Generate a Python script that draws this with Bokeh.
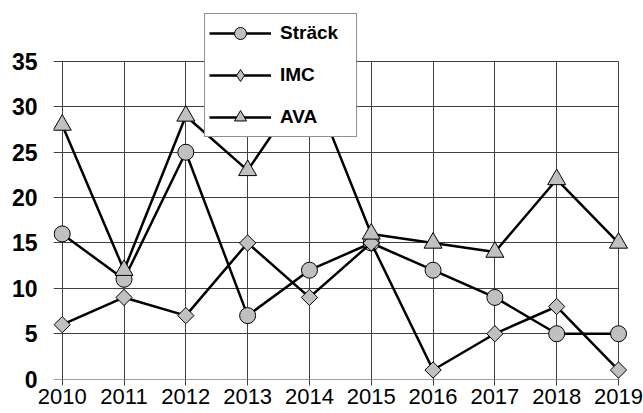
from bokeh.plotting import figure
from bokeh.models import Range1d, FixedTicker, Legend, LegendItem
from bokeh.embed import file_html
from bokeh.resources import INLINE
import numpy as np

# ---- data ----
years = [2010, 2011, 2012, 2013, 2014, 2015, 2016, 2017, 2018, 2019]
year_labels = ["2010", "2011", "2012", "2013", "2014", "2015", "2016", "2017", "2018", "2019"]
strack = [16, 11, 25, 7, 12, 15, 12, 9, 5, 5]
imc = [6, 9, 7, 15, 9, 15, 1, 5, 8, 1]
ava = [28, 12, 29, 23, 33, 16, 15, 14, 22, 15]
y_ticks = [0, 5, 10, 15, 20, 25, 30, 35]
series_names = ["Sträck", "IMC", "AVA"]

FONT = "Liberation Sans"
GRID = "#404040"

x_start, x_end = 2009.859, 2019.162
y_start, y_end = -0.044, 40.62

p = figure(width=643, height=413,
           x_range=Range1d(x_start, x_end), y_range=Range1d(y_start, y_end),
           min_border_left=53, min_border_right=15, min_border_top=10, min_border_bottom=34,
           output_backend="svg", toolbar_location=None)
p.outline_line_color = None
p.background_fill_color = "white"
p.border_fill_color = "white"

# axes
p.xaxis.ticker = FixedTicker(ticks=years)
p.xaxis.major_label_overrides = {y: l for y, l in zip(years, year_labels)}
p.xaxis.axis_line_color = None
p.xaxis.major_tick_out = 6
p.xaxis.major_tick_in = 0
p.xaxis.major_tick_line_color = GRID
p.xaxis.minor_tick_line_color = None
p.xaxis.major_label_standoff = 3
p.xaxis.major_label_text_font = FONT
p.xaxis.major_label_text_font_size = "22px"
p.xaxis.major_label_text_color = "black"

p.yaxis.ticker = FixedTicker(ticks=y_ticks)
p.yaxis.axis_line_color = None
p.yaxis.major_tick_out = 0
p.yaxis.major_tick_in = 0
p.yaxis.minor_tick_line_color = None
p.yaxis.major_label_standoff = 16
p.yaxis.major_label_text_font = FONT
p.yaxis.major_label_text_font_style = "bold"
p.yaxis.major_label_text_font_size = "23px"
p.yaxis.major_label_text_color = "black"

# grids
p.xgrid.ticker = FixedTicker(ticks=years)
p.ygrid.ticker = FixedTicker(ticks=y_ticks)
p.xgrid.grid_line_color = GRID
p.ygrid.grid_line_color = GRID
p.xgrid.grid_line_width = 1
p.ygrid.grid_line_width = 1
p.xgrid.cross_bounds = (y_start, y_ticks[-1])
p.ygrid.cross_bounds = (x_start, years[-1])

# series
fill = "#c0c0c0"
items = []

# Sträck
lr = p.line(years, strack, line_color="black", line_width=2.5)
sr = p.scatter(years, strack, marker="circle", size=16, fill_color=fill, line_color="black", line_width=1)
items.append(LegendItem(label=series_names[0], renderers=[lr, sr]))

# IMC (diamond drawn as rotated square; plain diamond beneath serves the legend)
lr = p.line(years, imc, line_color="black", line_width=2.5)
leg_d = p.scatter(years, imc, marker="diamond", size=14, fill_color=fill, line_color="black", line_width=1)
p.scatter(years, imc, marker="square", size=11.5, angle=np.pi / 4, fill_color=fill, line_color="black", line_width=1)
items.append(LegendItem(label=series_names[1], renderers=[lr, leg_d]))

# AVA
lr = p.line(years, ava, line_color="black", line_width=2.5)
sr = p.scatter(years, ava, marker="triangle", size=18, fill_color=fill, line_color="black", line_width=1)
items.append(LegendItem(label=series_names[2], renderers=[lr, sr]))

legend = Legend(items=items, location=(151, 242), margin=0,
                padding=4, spacing=12, glyph_width=62, glyph_height=30,
                label_height=30, label_width=72, label_standoff=9,
                border_line_color="#222222", border_line_width=1,
                background_fill_color="white", background_fill_alpha=1,
                label_text_font=FONT, label_text_font_style="bold",
                label_text_font_size="19px", label_text_color="black")
p.add_layout(legend, "center")

open("out.html", "w").write(file_html(p, INLINE))
